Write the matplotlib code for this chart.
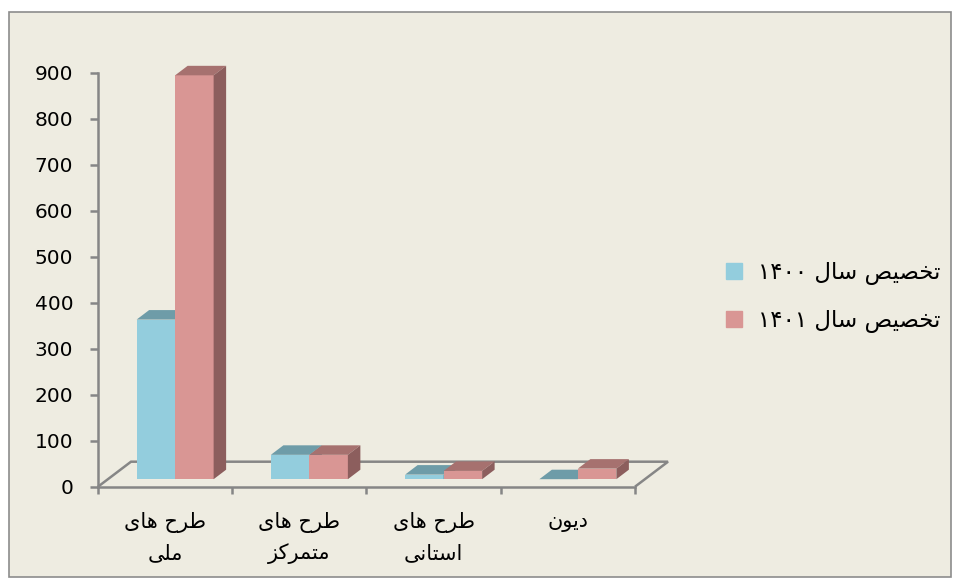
import matplotlib
matplotlib.use('Agg')
import matplotlib.pyplot as plt
from matplotlib.patches import Polygon, Rectangle
from matplotlib.lines import Line2D

categories = ['طرح های\nملی', 'طرح های\nمتمرکز', 'طرح های\nاستانی', 'دیون']
series_names = ['تخصیص سال ۱۴۰۰', 'تخصیص سال ۱۴۰۱']
alloc_1400 = [347, 53, 10, 0]
alloc_1401 = [878, 53, 18, 23]
y_ticks = [0, 100, 200, 300, 400, 500, 600, 700, 800, 900]

# colours: front, top, side
blue = ('#93CDDD', '#6E9CA8', '#5E8C99')
red = ('#D99694', '#A6716F', '#8C5E5D')
grey = '#868686'

# arabic presentation forms (iso, fin, init, med) -- matplotlib does no shaping
FORMS = {'ا': (0xFE8D, 0xFE8E), 'د': (0xFEA9, 0xFEAA), 'ر': (0xFEAD, 0xFEAE),
		 'ز': (0xFEAF, 0xFEB0), 'و': (0xFEED, 0xFEEE),
		 'ت': (0xFE95, 0xFE96, 0xFE97, 0xFE98), 'ح': (0xFEA1, 0xFEA2, 0xFEA3, 0xFEA4),
		 'خ': (0xFEA5, 0xFEA6, 0xFEA7, 0xFEA8), 'س': (0xFEB1, 0xFEB2, 0xFEB3, 0xFEB4),
		 'ص': (0xFEB9, 0xFEBA, 0xFEBB, 0xFEBC), 'ط': (0xFEC1, 0xFEC2, 0xFEC3, 0xFEC4),
		 'ک': (0xFB8E, 0xFB8F, 0xFEDB, 0xFEDC), 'ل': (0xFEDD, 0xFEDE, 0xFEDF, 0xFEE0),
		 'م': (0xFEE1, 0xFEE2, 0xFEE3, 0xFEE4), 'ن': (0xFEE5, 0xFEE6, 0xFEE7, 0xFEE8),
		 'ه': (0xFEE9, 0xFEEA, 0xFEEB, 0xFEEC), 'ی': (0xFEEF, 0xFEF0, 0xFEF3, 0xFEF4)}

def shape_word(w):
	out = []
	for i, ch in enumerate(w):
		f = FORMS.get(ch)
		if f is None:
			out.append(ch); continue
		prev_j = i > 0 and len(FORMS.get(w[i - 1], ())) == 4
		next_j = len(f) == 4 and i + 1 < len(w) and w[i + 1] in FORMS
		idx = (3 if prev_j else 2) if next_j else (1 if prev_j else 0)
		out.append(chr(f[idx]))
	return ''.join(reversed(out))

def rtl(text):
	lines = []
	for line in text.split('\n'):
		words = line.split(' ')
		lines.append(' '.join(shape_word(w) if any(c in FORMS for c in w) else w for w in reversed(words)))
	return '\n'.join(lines)

W, H = 960, 581
fig = plt.figure(figsize=(W / 100, H / 100), dpi=100)
fig.patch.set_facecolor('white')
fig.add_artist(Rectangle((9 / W, 1 - 577 / H), 942 / W, 565 / H, transform=fig.transFigure,
						 facecolor='#EEECE1', edgecolor='#8C8C8C', lw=1.2, zorder=0))

ax = fig.add_axes([98 / W, 1 - 486.7 / H, 537 / W, 414 / H])
ax.set_facecolor('none')
ax.set_xlim(-0.5, 3.5)
ax.set_ylim(0, 900)

px_x = 537 / 4      # pixels per category
px_y = 414 / 900    # pixels per unit
floor_dx, floor_dy = 33 / px_x, 25 / px_y
shift_x, shift_y = 10 / px_x, 7.5 / px_y
bar_dx, bar_dy = 12.5 / px_x, 9.5 / px_y
bw = 38.5 / px_x

# floor outline (front edge is the bottom spine)
ax.plot([-0.5, -0.5 + floor_dx, 3.5 + floor_dx, 3.5], [0, floor_dy, floor_dy, 0],
		color=grey, lw=1.8, clip_on=False, zorder=1, solid_joinstyle='miter', solid_capstyle='butt')

xs = range(len(categories))
for vals, cols, off, z in [(alloc_1400, blue, -bw, 3), (alloc_1401, red, 0, 4)]:
	lefts = [i + shift_x + off for i in xs]
	ax.bar(lefts, vals, bw, bottom=shift_y, align='edge', color=cols[0], zorder=z, clip_on=False)
	for x0, v in zip(lefts, vals):
		top = shift_y + v
		ax.add_patch(Polygon([(x0, top), (x0 + bw, top), (x0 + bw + bar_dx, top + bar_dy), (x0 + bar_dx, top + bar_dy)],
							 closed=True, facecolor=cols[1], edgecolor='none', zorder=z, clip_on=False))
		ax.add_patch(Polygon([(x0 + bw, shift_y), (x0 + bw + bar_dx, shift_y + bar_dy), (x0 + bw + bar_dx, top + bar_dy), (x0 + bw, top)],
							 closed=True, facecolor=cols[2], edgecolor='none', zorder=z, clip_on=False))

for s in ['top', 'right']:
	ax.spines[s].set_visible(False)
for s in ['left', 'bottom']:
	ax.spines[s].set_color(grey)
	ax.spines[s].set_linewidth(1.8)

ax.set_yticks(y_ticks)
ax.set_yticklabels([str(t) for t in y_ticks])
ax.tick_params(axis='y', length=5.8, width=1.8, color=grey, pad=12, labelsize=14.5, labelcolor='black')
ax.set_xticks([-0.5, 0.5, 1.5, 2.5, 3.5])
ax.set_xticklabels([])
ax.tick_params(axis='x', which='major', length=5, width=1.8, color=grey)
ax.set_xticks(list(xs), [rtl(c) for c in categories], minor=True)
ax.tick_params(axis='x', which='minor', length=0, pad=18, labelsize=15, labelcolor='black')
for lab in ax.get_xticklabels(minor=True):
	lab.set_linespacing(1.65)

handles = [Line2D([], [], marker='s', ls='', markersize=12, color=c[0]) for c in (blue, red)]
fig.legend(handles, [rtl(n) for n in series_names], loc='center left', bbox_to_anchor=(700 / W, 1 - 297 / H),
		   frameon=False, fontsize=16.5, labelspacing=1.05, handletextpad=0.45, handlelength=1.2)

plt.savefig('out.png', dpi=100, facecolor=fig.get_facecolor())
